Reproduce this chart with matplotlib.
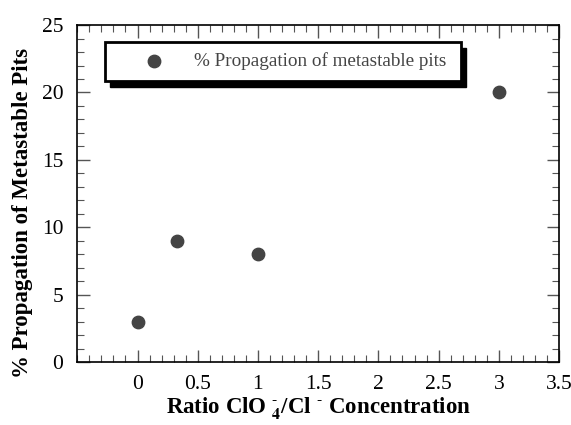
import matplotlib
matplotlib.use("Agg")
import matplotlib.pyplot as plt
from matplotlib.patches import Rectangle
from matplotlib.ticker import MultipleLocator

# donnees
ratio = [0.0, 0.33, 1.0, 3.0]
propagation = [3, 9, 8, 20]
label_serie = "% Propagation of metastable pits"
x_ticks = [0, 0.5, 1, 1.5, 2, 2.5, 3, 3.5]
x_tick_labels = ['0', '0.5', '1', '1.5', '2', '2.5', '3', '3.5']

plt.rcParams['font.family'] = ['Liberation Serif', 'DejaVu Serif']
plt.rcParams['mathtext.fontset'] = 'stix'
plt.rcParams['mathtext.default'] = 'bf'

fig = plt.figure(figsize=(5.71, 4.25), dpi=100)
ax = fig.add_axes([0.1354, 0.148, 0.8436, 0.793])

ax.scatter(ratio, propagation, s=80, color='#444444', zorder=3, label=label_serie)

ax.set_xlim(-0.5, 3.5)
ax.set_ylim(0, 25)
ax.set_xticks(x_ticks)
ax.set_xticklabels(x_tick_labels)
ax.xaxis.set_minor_locator(MultipleLocator(0.1))
ax.yaxis.set_major_locator(MultipleLocator(5))
ax.yaxis.set_minor_locator(MultipleLocator(1))
ax.tick_params(which='both', direction='in', top=True, right=True, labelsize=15.5, color='#555555')
ax.tick_params(which='major', length=9, width=1)
ax.tick_params(which='minor', length=5, width=0.8)
ax.tick_params(axis='x', pad=9)
ax.tick_params(axis='y', pad=10)
for s in ax.spines.values():
    s.set_linewidth(1.2)

ax.set_xlabel("Ratio ClO $_4^{\\text{-}}$/Cl $^{\\text{-}}$ Concentration", fontsize=16.5, fontweight='bold', labelpad=1)
ax.set_ylabel("% Propagation of Metastable Pits", fontsize=16.5, fontweight='bold')
ax.yaxis.set_label_coords(-0.092, 0.4436)

leg = ax.legend(loc='upper left', bbox_to_anchor=(0.0575, 0.840, 0.739, 0.110), mode='expand',
                fontsize=13.8, frameon=True, fancybox=False, edgecolor='black', framealpha=1,
                handlelength=4.0, handletextpad=0.1, borderpad=0.55, borderaxespad=0)
leg.get_frame().set_linewidth(2)
leg.set_zorder(6)
for t in leg.get_texts():
    t.set_color('#444444')

# ombre du cadre de legende, decalee de quelques pixels
fig.canvas.draw()
bb = leg.get_frame().get_window_extent().transformed(ax.transAxes.inverted())
dx = 5 / ax.get_window_extent().width
dy = 6 / ax.get_window_extent().height
ax.add_patch(Rectangle((bb.x0 + dx, bb.y0 - dy), bb.width, bb.height, transform=ax.transAxes,
                       facecolor='black', edgecolor='black', zorder=5, clip_on=False))

fig.savefig("out.png", dpi=100)
